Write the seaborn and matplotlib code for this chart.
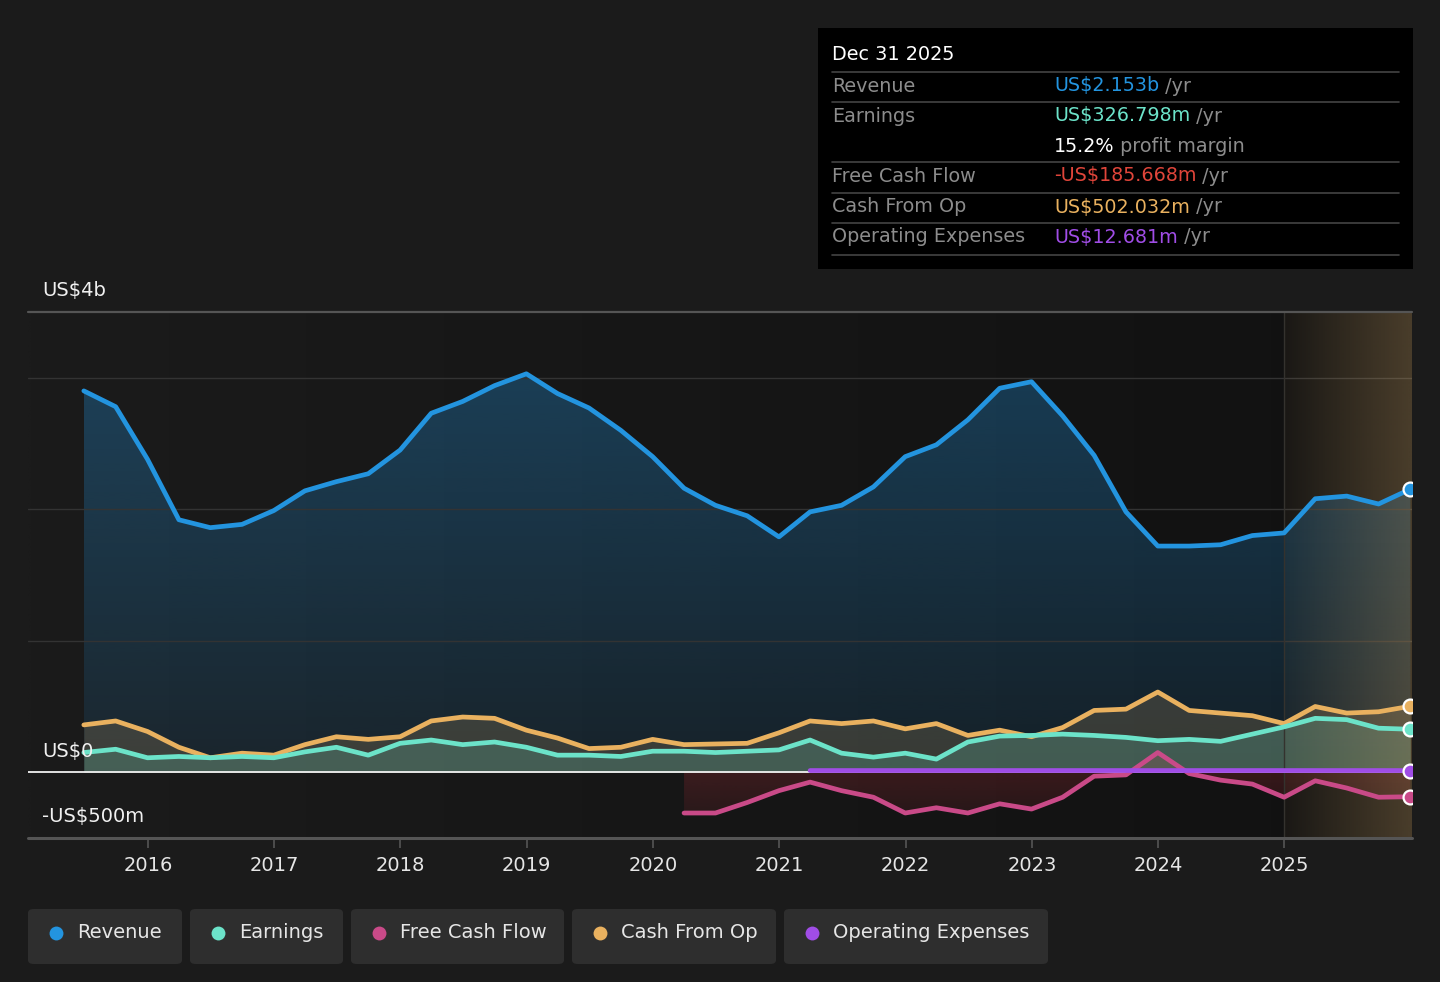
import numpy as np
import pandas as pd
import matplotlib
matplotlib.use("Agg")
import matplotlib.pyplot as plt
import seaborn as sns
from matplotlib.patches import Rectangle, FancyBboxPatch
from matplotlib.lines import Line2D

# ---------------- data (US$ billions, quarterly, trailing twelve months) ----------------
quarter_ends = pd.date_range("2015-06-30", "2025-12-31", freq="QE")

revenue = [2.90, 2.78, 2.38, 1.92, 1.86, 1.885, 1.99, 2.14, 2.21, 2.27,
           2.45, 2.73, 2.82, 2.94, 3.03, 2.88, 2.77, 2.60, 2.40, 2.16,
           2.03, 1.95, 1.79, 1.98, 2.03, 2.17, 2.40, 2.49, 2.68, 2.92,
           2.97, 2.71, 2.41, 1.98, 1.72, 1.72, 1.73, 1.80, 1.82, 2.08,
           2.10, 2.04, 2.153]
earnings = [0.15, 0.175, 0.11, 0.12, 0.11, 0.12, 0.11, 0.155, 0.19, 0.13,
            0.22, 0.245, 0.21, 0.23, 0.19, 0.13, 0.13, 0.12, 0.16, 0.16,
            0.15, 0.16, 0.17, 0.245, 0.145, 0.115, 0.145, 0.10, 0.23, 0.275,
            0.28, 0.29, 0.28, 0.265, 0.24, 0.25, 0.235, 0.29, 0.345, 0.41,
            0.40, 0.335, 0.327]
cash_from_op = [0.36, 0.39, 0.31, 0.19, 0.11, 0.145, 0.13, 0.21, 0.27, 0.25,
                0.27, 0.39, 0.42, 0.41, 0.32, 0.26, 0.18, 0.19, 0.25, 0.21,
                0.215, 0.22, 0.30, 0.39, 0.37, 0.39, 0.33, 0.37, 0.28, 0.32,
                0.27, 0.34, 0.47, 0.48, 0.61, 0.47, 0.45, 0.43, 0.37, 0.50,
                0.45, 0.46, 0.502]
# free cash flow starts Jun 2020
fcf_start = 19
free_cash_flow = [-0.31, -0.31, -0.23, -0.14, -0.075, -0.14, -0.19, -0.31, -0.27, -0.31,
                  -0.24, -0.28, -0.19, -0.03, -0.02, 0.15, -0.01, -0.06, -0.09, -0.19,
                  -0.065, -0.12, -0.19, -0.186]
# operating expenses start Jun 2021
opex_start = 23
operating_expenses = [0.013, 0.013, 0.013, 0.013, 0.013, 0.013, 0.013, 0.013, 0.013, 0.013,
                      0.013, 0.013, 0.013, 0.013, 0.013, 0.013, 0.013, 0.013, 0.013, 0.0127]

year_ticks = [2016, 2017, 2018, 2019, 2020, 2021, 2022, 2023, 2024, 2025]
y_labels = {3.5: "US$4b", 0.0: "US$0", -0.5: "-US$500m"}

series_names = ["Revenue", "Earnings", "Free Cash Flow", "Cash From Op", "Operating Expenses"]
series_colors = ["#2394df", "#6ce3c9", "#c94a88", "#e9b15f", "#a04de6"]

tooltip_title = "Dec 31 2025"
tooltip_rows = [("Revenue", "US$2.153b", "#2394df"),
                ("Earnings", "US$326.798m", "#6ce3c9"),
                ("", "15.2%", "#ffffff"),
                ("Free Cash Flow", "-US$185.668m", "#e0453a"),
                ("Cash From Op", "US$502.032m", "#e9b15f"),
                ("Operating Expenses", "US$12.681m", "#a04de6")]

# ---------------- helpers ----------------
def frac_year(d):
    start = pd.Timestamp(year=d.year, month=1, day=1)
    end = pd.Timestamp(year=d.year + 1, month=1, day=1)
    return d.year + (d - start) / (end - start)

x = np.array([frac_year(d) for d in quarter_ends])
df = pd.DataFrame({"x": x, "Revenue": revenue, "Earnings": earnings, "Cash From Op": cash_from_op})
df_fcf = pd.DataFrame({"x": x[fcf_start:], "Free Cash Flow": free_cash_flow})
df_opex = pd.DataFrame({"x": x[opex_start:], "Operating Expenses": operating_expenses})

W, H = 1440, 982
BG = "#1b1b1b"

sns.set_theme(style="dark")
plt.rcParams["font.family"] = ["DejaVu Sans"]

fig = plt.figure(figsize=(W / 100, H / 100), dpi=100, facecolor=BG)

def fx(px):
    return px / W

def fy(py):
    return 1 - py / H

XMIN, XMAX = 2015.051, 2026.01
YMIN, YMAX = -0.5, 3.5

ax = fig.add_axes([fx(28), fy(838), fx(1412) - fx(28), fy(312) - fy(838)])
ax.set_facecolor(BG)
for s in ax.spines.values():
    s.set_visible(False)

def to_rgb(c):
    return np.array(matplotlib.colors.to_rgb(c))

# background horizontal gradient
bg = np.zeros((2, 256, 3))
shade = np.linspace(27, 17, 256) / 255.0
for i in range(3):
    bg[:, :, i] = shade
ax.imshow(bg, aspect="auto", extent=[XMIN, XMAX, YMIN, YMAX], zorder=0, interpolation="bilinear")

def gradient_fill(xv, ylow, yhigh, color, a_top, a_bot, ytop, ybot, z):
    poly = ax.fill_between(xv, ylow, yhigh, facecolor="none", edgecolor="none", zorder=z)
    g = np.zeros((256, 1, 4))
    g[:, 0, :3] = to_rgb(color)
    g[:, 0, 3] = np.linspace(a_top, a_bot, 256)
    im = ax.imshow(g, aspect="auto", extent=[xv.min(), xv.max(), ybot, ytop],
                   origin="upper", zorder=z, interpolation="bilinear")
    im.set_clip_path(poly.get_paths()[0], ax.transData)
    return im

# revenue area
gradient_fill(df["x"].values, 0, df["Revenue"].values, "#2394df", 0.32, 0.10, 3.1, 0.0, 1)
# cash from op area
ax.fill_between(df["x"], 0, df["Cash From Op"], color="#c9a46a", alpha=0.20, lw=0, zorder=2)
# earnings area
ax.fill_between(df["x"], 0, df["Earnings"], color="#6ce3c9", alpha=0.20, lw=0, zorder=3)
# free cash flow area
gradient_fill(df_fcf["x"].values, 0, df_fcf["Free Cash Flow"].values, "#c8323e", 0.26, 0.10, 0.15, -0.35, 2)

# grid lines
for g in [1, 2, 3]:
    ax.axhline(g, color="#333333", lw=1.0, zorder=1.5)
ax.axhline(3.5, color="#555555", lw=1.6, zorder=6, clip_on=False)
ax.axhline(-0.5, color="#555555", lw=2.2, zorder=6, clip_on=False)

# forecast region overlay (from 2025)
ov = np.zeros((1, 256, 4))
ov[0, :, :3] = np.array([200, 160, 100]) / 255.0
ov[0, :, 3] = np.linspace(0.05, 0.31, 256)
ax.imshow(ov, aspect="auto", extent=[2025.0, XMAX, YMIN, YMAX], zorder=4, interpolation="bilinear")
ax.axvline(2025.0, color="#34322e", lw=1.0, zorder=4)

# zero line
ax.axhline(0, color="#f2f2f2", lw=1.3, zorder=4.5)

# lines
lw = 3.4
sns.lineplot(data=df, x="x", y="Revenue", ax=ax, color=series_colors[0], lw=lw, zorder=7)
sns.lineplot(data=df, x="x", y="Cash From Op", ax=ax, color=series_colors[3], lw=lw, zorder=7)
sns.lineplot(data=df, x="x", y="Earnings", ax=ax, color=series_colors[1], lw=lw, zorder=7)
sns.lineplot(data=df_fcf, x="x", y="Free Cash Flow", ax=ax, color=series_colors[2], lw=lw, zorder=7)
sns.lineplot(data=df_opex, x="x", y="Operating Expenses", ax=ax, color=series_colors[4], lw=lw, zorder=7.5)

# end markers
ends = [(df["x"].iloc[-1], revenue[-1], series_colors[0]),
        (df["x"].iloc[-1], earnings[-1], series_colors[1]),
        (df["x"].iloc[-1], cash_from_op[-1], series_colors[3]),
        (df_fcf["x"].iloc[-1], free_cash_flow[-1], series_colors[2]),
        (df_opex["x"].iloc[-1], operating_expenses[-1], series_colors[4])]
for ex, ey, c in ends:
    ax.plot([ex], [ey], "o", ms=10, mfc=c, mec="white", mew=1.6, zorder=8)

ax.set_xlim(XMIN, XMAX)
ax.set_ylim(YMIN, YMAX)
ax.set_xlabel("")
ax.set_ylabel("")
ax.grid(False)

ax.set_xticks(year_ticks)
ax.set_xticklabels([str(y) for y in year_ticks])
ax.tick_params(axis="x", direction="out", length=7, width=1.2, color="#555555",
               labelcolor="#e6e6e6", labelsize=14, pad=6, bottom=True)
ax.set_yticks([])

trans = matplotlib.transforms.blended_transform_factory(ax.transAxes, ax.transData)
for val, lab in y_labels.items():
    ax.text(14 / 1384, val + 0.16, lab, transform=trans, color="#f0f0f0", fontsize=14,
            ha="left", va="center", zorder=9, clip_on=False)

# ---------------- tooltip ----------------
fig.patches.append(Rectangle((fx(818), fy(269)), fx(1413) - fx(818), fy(28) - fy(269),
                             transform=fig.transFigure, facecolor="#000000", edgecolor="none", zorder=10))
fig.text(fx(832), fy(55), tooltip_title, color="#ffffff", fontsize=13.9, va="center", ha="left", zorder=11)
for yl in [72, 102, 162, 193, 223, 255]:
    fig.add_artist(Line2D([fx(832), fx(1399)], [fy(yl), fy(yl)], transform=fig.transFigure,
                          color="#444444", lw=1.2, zorder=11))
row_y = [86, 116, 146, 176, 207, 237]
for (lab, val, col), ry in zip(tooltip_rows, row_y):
    if lab:
        fig.text(fx(832), fy(ry), lab, color="#8c8c8c", fontsize=13.8, va="center", ha="left", zorder=11)
    t = fig.text(fx(1054), fy(ry), val, color=col, fontsize=13.8, va="center", ha="left", zorder=11)
    suffix = " profit margin" if lab == "" else " /yr"
    fig.add_artist(matplotlib.text.Annotation(suffix, xy=(1, 0.5), xycoords=t, va="center", ha="left",
                                              color="#8c8c8c", fontsize=13.8, zorder=11))

# ---------------- legend ----------------
boxes = [(28, 182), (190, 343), (351, 564), (572, 776), (784, 1048)]
for (l, r), name, col in zip(boxes, series_names, series_colors):
    fig.patches.append(FancyBboxPatch((fx(l), fy(964)), fx(r) - fx(l), fy(909) - fy(964),
                                      boxstyle="round,pad=0,rounding_size=0.004",
                                      transform=fig.transFigure, facecolor="#2e2e2e",
                                      edgecolor="none", zorder=10))
    fig.add_artist(Line2D([fx(l + 28)], [fy(933)], marker="o", ms=10, mfc=col, mec="none",
                          transform=fig.transFigure, zorder=11))
    fig.text(fx(l + 49), fy(933), name, color="#e6e6e6", fontsize=14, va="center", ha="left", zorder=11)

fig.savefig("out.png", dpi=100, facecolor=BG)
